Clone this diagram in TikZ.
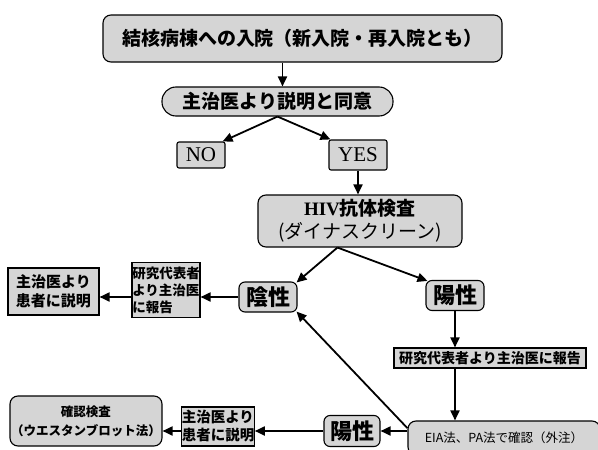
\documentclass[tikz,border=0pt]{standalone}
\usepackage{fontspec}
\setmainfont{Liberation Serif}
\newfontfamily\jp{Noto Sans CJK JP}
\usetikzlibrary{arrows.meta,calc}
\tikzset{
  box/.style={draw=black, line width=1.1pt, fill=gray!33, inner sep=0pt, align=center, rounded corners=2pt},
  rbox/.style={box, rounded corners=8pt},
  pill/.style={box, rounded corners=14pt},
  arr/.style={line width=1.8pt, -{Triangle[length=10pt,width=9pt]}},
  fs/.style={font=\jp\bfseries\fontsize{#1}{#1}\selectfont}
}
\begin{document}
\begin{tikzpicture}[x=1pt,y=-1pt]
\useasboundingbox (0,0) rectangle (598,450);
\node[rbox, minimum width=399, minimum height=47, fs=19] (top) at (302.5,38.5) {結核病棟への入院（新入院・再入院とも）};
\node[pill, minimum width=231, minimum height=29, fs=19] (cons) at (277.5,101.5) {主治医より説明と同意};
\node[box, minimum width=48, minimum height=26, font=\fontsize{21}{21}\selectfont] (no) at (201,155) {NO};
\node[box, minimum width=58, minimum height=30, font=\fontsize{21}{21}\selectfont] (yes) at (358,155) {YES};
\node[rbox, minimum width=204, minimum height=52, font=\fontsize{19}{23}\selectfont] (hiv) at (360,221) {{\bfseries HIV}{\jp\bfseries 抗体検査}\\{\jp (ダイナスクリーン)}};
\node[box, rounded corners=6pt, minimum width=58, minimum height=30, fs=22] (neg) at (268,297) {陰性};
\node[box, rounded corners=6pt, minimum width=58, minimum height=30, fs=22] (pos) at (455,295.5) {陽性};
\node[box, rounded corners=0pt, minimum width=68, minimum height=55, align=left, font=\jp\bfseries\fontsize{13.5}{17}\selectfont] (rep1) at (166,290) {研究代表者\\より主治医\\に報告};
\node[box, rounded corners=0pt, minimum width=91, minimum height=47, font=\jp\bfseries\fontsize{15}{19}\selectfont] (exp1) at (53.5,291.5) {主治医より\\患者に説明};
\node[box, rounded corners=0pt, minimum width=192, minimum height=20, font=\jp\bfseries\fontsize{14}{14}\selectfont] (rep2) at (490,358) {研究代表者より主治医に報告};
\node[rbox, minimum width=192, minimum height=34, font=\jp\fontsize{12.5}{12.5}\selectfont] (eia) at (504,438) {EIA法、PA法で確認（外注）};
\node[box, rounded corners=6pt, minimum width=56, minimum height=31, fs=22] (pos2) at (352,431) {陽性};
\node[box, rounded corners=0pt, minimum width=70, minimum height=39, align=left, font=\jp\bfseries\fontsize{14.5}{18}\selectfont] (exp2) at (218,426.5) {主治医より\\患者に説明};
\node[rbox, minimum width=152, minimum height=50, font=\jp\bfseries\fontsize{12.5}{19}\selectfont] (conf) at (86,421) {確認検査\\（ウエスタンブロット法）};
% connectors
\coordinate (t1) at ($(top.south west)!0.45!(top.south east)$);
\draw[arr] (t1) -- (t1 |- cons.north);
\draw[arr] (cons.south) -- ($(no.north east)+(-3,0)$);
\draw[arr] (cons.south) -- ($(yes.north west)+(2,0)$);
\draw[arr] (yes.south) -- (yes.south |- hiv.north);
\coordinate (h1) at ($(hiv.south west)!0.39!(hiv.south east)$);
\draw[arr] (h1) -- ($(neg.north east)+(-1,1)$);
\draw[arr] (h1) -- ($(pos.north west)+(2,1)$);
\draw[arr] (neg.west) -- (neg.west -| rep1.east);
\draw[arr] (neg.west -| rep1.west) -- (neg.west -| exp1.east);
\draw[arr] (pos.south) -- (pos.south |- rep2.north);
\draw[arr] (pos.south |- rep2.south) -- (pos.south |- eia.north);
\coordinate (e1) at ($(eia.north west)!0.22!(eia.south west)$);
\draw[arr] (e1) -- ($(neg.south east)+(-1,-1)$);
\draw[arr] (pos2.east -| eia.west) -- (pos2.east);
\draw[arr] (pos2.west) -- (pos2.west -| exp2.east);
\draw[arr] (pos2.west -| exp2.west) -- (pos2.west -| conf.east);
\end{tikzpicture}
\end{document}
